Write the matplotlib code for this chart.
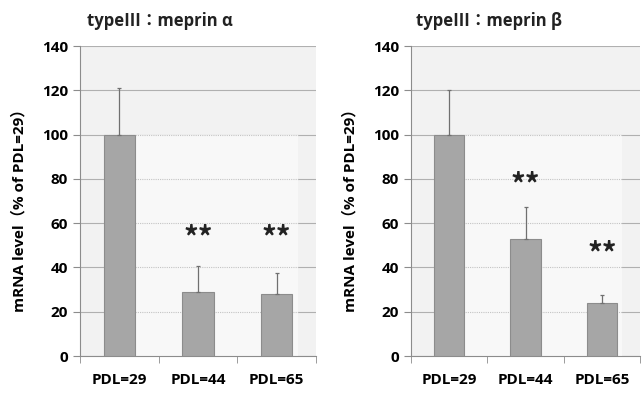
import numpy as np
import matplotlib.pyplot as plt

plt.rcParams['font.family'] = ['Open Sans', 'Noto Sans CJK JP', 'DejaVu Sans']

categories = ['PDL=29', 'PDL=44', 'PDL=65']
titles = ['typeⅢ：meprin α', 'typeⅢ：meprin β']
alpha_vals = [100, 29, 28]
alpha_err = [21, 11.5, 9.5]
beta_vals = [100, 53, 24]
beta_err = [20, 14.5, 3.5]
alpha_stars = [None, 53, 53]
beta_stars = [None, 77, 46]
ylabel = 'mRNA level（% of PDL=29）'

fig = plt.figure(figsize=(6.42, 3.94), dpi=100)
panels = [
    (titles[0], alpha_vals, alpha_err, alpha_stars, [80 / 642, 1 - 356 / 394, 236 / 642, 310 / 394]),
    (titles[1], beta_vals, beta_err, beta_stars, [411 / 642, 1 - 356 / 394, 229 / 642, 310 / 394]),
]

for title, vals, err, stars, rect in panels:
    ax = fig.add_axes(rect)
    ax.set_facecolor('#f2f2f2')
    x = np.arange(len(categories))
    # lighter inner wall with dotted grid (as in the original Excel chart)
    ax.fill_between([-0.2, 2.27], 0, 100, color='#f8f8f8', zorder=1, linewidth=0)
    ax.hlines(np.arange(20, 101, 20), -0.2, 2.27, colors='#c4c4c4', linestyles=(0, (1, 1)),
              linewidth=0.8, zorder=2)
    ax.bar(x, vals, width=0.4, color='#a6a6a6', edgecolor='#8c8c8c', linewidth=0.8, zorder=3)
    ax.errorbar(x, vals, yerr=[np.zeros(len(err)), err], fmt='none', ecolor='#707070',
                elinewidth=0.9, capsize=1.5, capthick=0.9, zorder=4)
    for xi, s in zip(x, stars):
        if s is not None:
            ax.text(xi, s, '**', ha='center', va='center', fontsize=21, fontweight='bold',
                    color='#222222', family='Noto Sans CJK JP', zorder=5)
    ax.set_xlim(-0.5, 2.5)
    ax.set_ylim(0, 140)
    ax.set_yticks(np.arange(0, 141, 20))
    ax.grid(axis='y', color='#b0b0b0', linewidth=0.8, zorder=0)
    ax.set_axisbelow(True)
    ax.set_xticks(x)
    ax.set_xticklabels(categories, fontsize=11, fontweight='bold')
    ax.set_xticks([-0.5, 0.5, 1.5, 2.5], minor=True)
    ax.tick_params(axis='x', which='major', length=0, pad=12)
    ax.tick_params(axis='x', which='minor', length=5, color='#8c8c8c', direction='out')
    ax.tick_params(axis='y', length=5, color='#8c8c8c', labelsize=11, direction='out')
    for lab in ax.get_yticklabels():
        lab.set_fontweight('bold')
    for side in ['top', 'right']:
        ax.spines[side].set_visible(False)
    for side in ['left', 'bottom']:
        ax.spines[side].set_color('#8c8c8c')
    ax.set_ylabel(ylabel, fontsize=11, fontweight='bold')
    ax.yaxis.set_label_coords(-54 / (rect[2] * 642), 0.48)
    ax.text(0.34, 1.08, title, transform=ax.transAxes, ha='center', va='center',
            fontsize=12, fontweight='bold', color='#222222')

fig.savefig('out.png', dpi=100)
